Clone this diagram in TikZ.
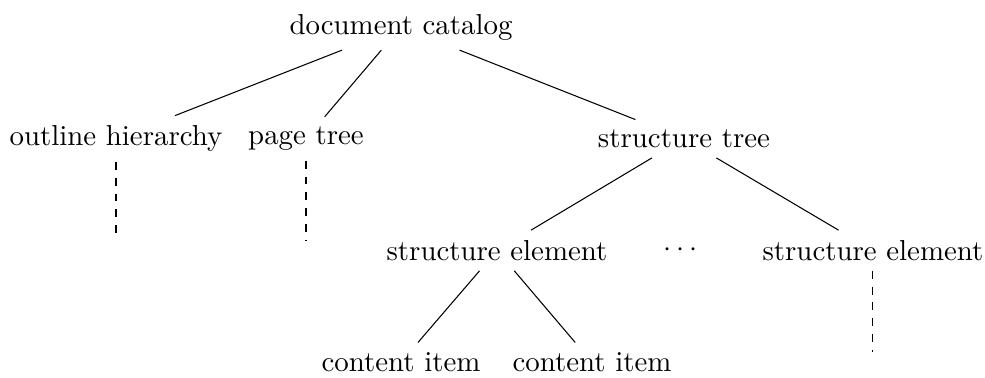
\documentclass[11pt,tikz,border=0pt]{standalone}
\usepackage{tikz}
\tikzset{more/.style={dashed}}

\begin{document}
\begin{tikzpicture}
      \useasboundingbox (-5.347,-4.68) rectangle (7.787,0.36);

      \node (catalog) at (0,0) {document catalog};

      \node (outline) at (-3.8,-1.49) {outline hierarchy};
      \node (pages) at (-1.267,-1.49) {page tree};
      \node (struct) at (3.773,-1.49) {structure tree};

      \node (elemA) at (1.28,-2.98) {structure element};
      \node (dots) at (3.73,-2.98) {$\cdots$};
      \node (elemB) at (6.293,-2.98) {structure element};

      \node (itemA) at (0,-4.47) {content item};
      \node (itemB) at (2.547,-4.47) {content item};

      % empty ends of the dashed edges
      \node (outline-end) at (-3.8,-2.98) {};
      \node (pages-end) at (-1.267,-2.98) {};
      \node (elemB-end) at (6.293,-4.47) {};

      \draw (catalog)--(outline);
      \draw (catalog)--(pages);
      \draw (catalog)--(struct);
      \draw (struct)--(elemA);
      \draw (struct)--(elemB);
      \draw (elemA)--(itemA);
      \draw (elemA)--(itemB);

      \draw[more] (outline)--(outline-end);
      \draw[more] (pages)--(pages-end);
      \draw[more] (elemB)--(elemB-end);
\end{tikzpicture}
\end{document}
